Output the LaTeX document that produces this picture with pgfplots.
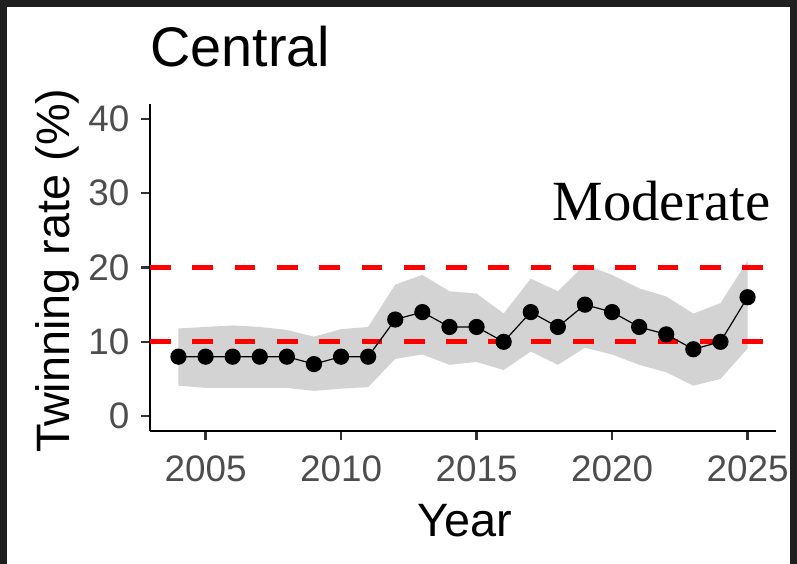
\documentclass[border=0pt]{standalone}
\usepackage{pgfplots}
\pgfplotsset{compat=1.18}
\usepgfplotslibrary{fillbetween}
\usepackage{fontspec}
\setmainfont{Liberation Sans}
\newfontfamily\serifmod{Liberation Serif}
\definecolor{frame}{HTML}{1F1F1F}
\definecolor{ribbon}{HTML}{D3D3D3}
\definecolor{tickgray}{HTML}{4D4D4D}
\definecolor{tickline}{HTML}{333333}

% year, rate, lower and upper band
\pgfplotstableread{
year rate lo hi
2004 8 4.1 11.8
2005 8 3.8 12.0
2006 8 3.8 12.2
2007 8 3.8 12.0
2008 8 3.8 11.6
2009 7 3.4 10.7
2010 8 3.7 11.7
2011 8 3.9 12.0
2012 13 7.7 17.7
2013 14 8.3 19.0
2014 12 6.9 16.8
2015 12 7.3 16.5
2016 10 6.2 13.8
2017 14 8.7 18.5
2018 12 6.9 16.8
2019 15 9.2 20.4
2020 14 8.3 19.0
2021 12 6.9 17.2
2022 11 5.9 16.1
2023 9 4.1 13.8
2024 10 5.0 15.2
2025 16 9.1 20.9
}\central

\begin{document}
\begin{tikzpicture}
\path (0,0) rectangle (797bp,564bp);
\fill[frame] (0,557bp) rectangle (797bp,564bp);
\fill[frame] (0,0) rectangle (7bp,564bp);
\fill[frame] (790bp,0) rectangle (797bp,564bp);
\begin{axis}[
  at={(150bp,133bp)}, anchor=south west,
  scale only axis, width=626bp, height=327bp,
  xmin=2002.95, xmax=2026.05, ymin=-2, ymax=42,
  axis x line*=bottom, axis y line*=left,
  every outer x axis line/.append style={-, line width=2.7bp, black},
  every outer y axis line/.append style={-, line width=2.7bp, black},
  xtick={2005,2010,...,2025}, ytick={0,10,...,40},
  tick align=outside, major tick length=9bp,
  major tick style={line width=2.4bp, tickline},
  /pgf/number format/assume math mode=true,
  /pgf/number format/1000 sep={},
  tick label style={font=\fontsize{37}{40}\selectfont, text=tickgray},
  xticklabel style={yshift=-12bp},
  yticklabel style={xshift=-8bp},
  xlabel={Year}, ylabel={Twinning rate (\%)},
  label style={font=\fontsize{47}{50}\selectfont},
  xlabel style={at={(axis description cs:0.503,-0.324)}, anchor=base},
  ylabel style={at={(axis description cs:-0.128,0.49)}, anchor=base},
  title={Central},
  title style={font=\fontsize{56}{60}\selectfont, inner sep=0pt, at={(axis description cs:0,1.095)}, anchor=base west},
  clip=false,
]
\addplot[name path=up, draw=none] table[x=year, y=hi] {\central};
\addplot[name path=lo, draw=none] table[x=year, y=lo] {\central};
\addplot[ribbon] fill between[of=up and lo];
\addplot[red, line width=5bp, dash pattern=on 20.7bp off 21.6bp] coordinates {(2002.95,20) (2026.05,20)};
\addplot[red, line width=5bp, dash pattern=on 20.7bp off 21.6bp] coordinates {(2002.95,10) (2026.05,10)};
\addplot[black, line width=1.2bp, mark=*, mark size=7.5bp, mark options={fill=black}] table[x=year, y=rate] {\central};
\node[anchor=base west, inner sep=0pt, font=\serifmod\fontsize{57}{60}\selectfont] at (axis cs:2017.8,26.3) {Moderate};
\end{axis}
\end{tikzpicture}
\end{document}
